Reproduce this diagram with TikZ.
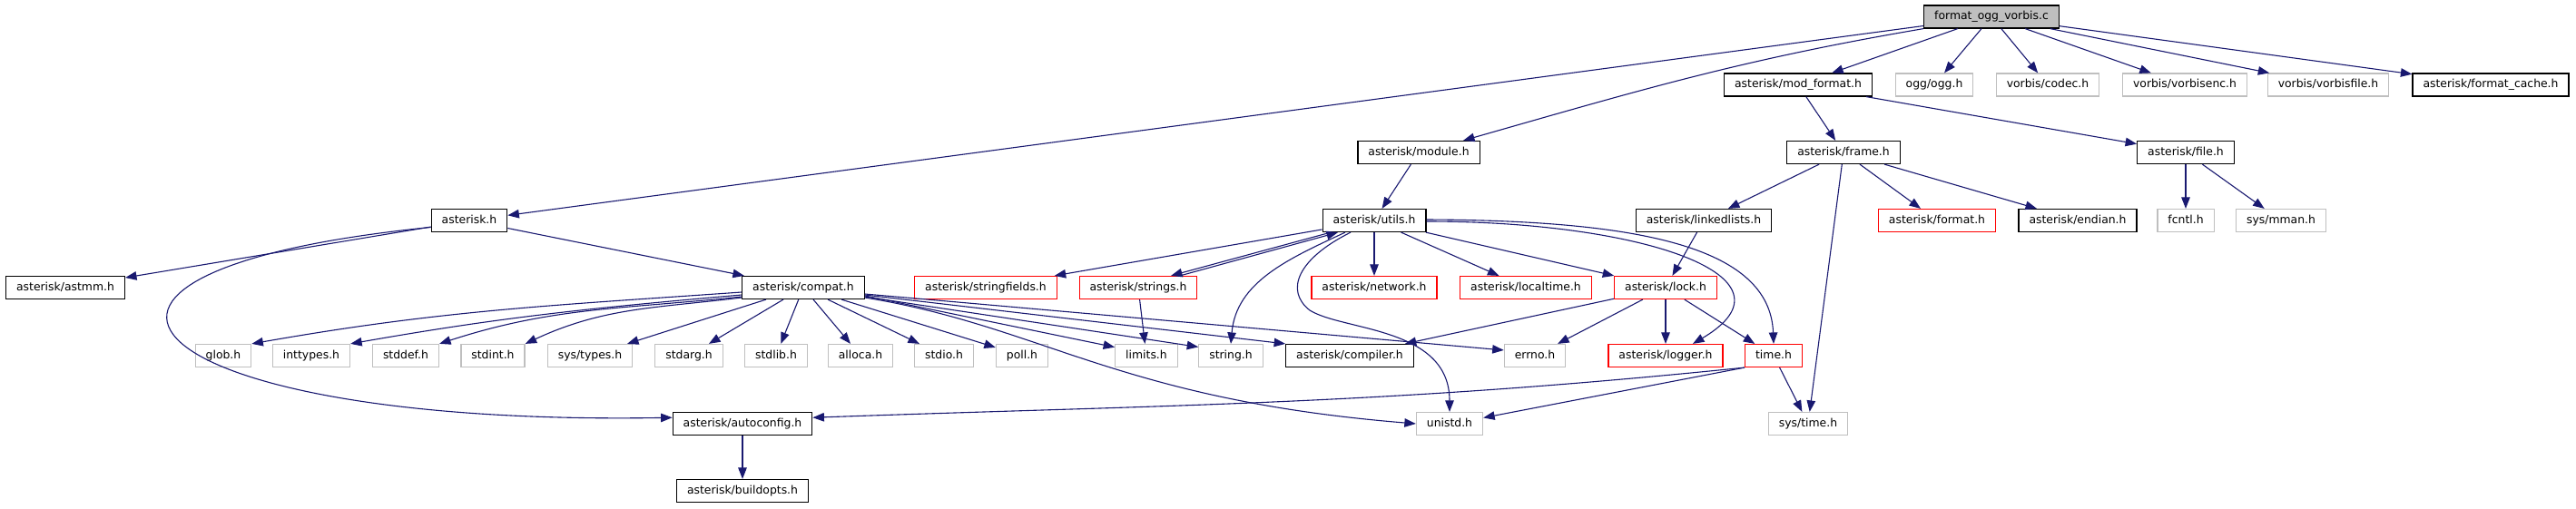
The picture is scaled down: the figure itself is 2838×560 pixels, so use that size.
\documentclass[tikz,border=0pt]{standalone}
\usepackage{fontspec}
\setmainfont{DejaVu Sans}
\usetikzlibrary{arrows.meta}
\definecolor{edgeblue}{RGB}{25,25,112}
\definecolor{sysgray}{RGB}{191,191,191}
\definecolor{truncred}{RGB}{255,0,0}

\begin{document}
\begin{tikzpicture}[x=1pt, y=1pt,
        box/.style={draw, line width=1.2pt, minimum height=25pt, inner xsep=11.5pt, inner ysep=0pt,
                    text height=9pt, text depth=2.5pt, font=\fontsize{12.4}{14}\selectfont},
        hdr/.style={box, draw=black},
        sys/.style={box, draw=sysgray},
        trunc/.style={box, draw=truncred},
        root/.style={box, draw=black, fill=sysgray},
        dep/.style={-{Triangle[length=12.5pt, width=9.5pt]}, edgeblue, line width=1.1pt},
      ]
      \useasboundingbox (0,0) rectangle (2838,-560);
      \node[root] (src) at (2194,-18.5) {format\_ogg\_vorbis.c};
      \node[hdr] (modfmt) at (1981,-93.5) {asterisk/mod\_format.h};
      \node[sys] (ogg) at (2131,-93.5) {ogg/ogg.h};
      \node[sys] (codec) at (2256,-93.5) {vorbis/codec.h};
      \node[sys] (venc) at (2407,-93.5) {vorbis/vorbisenc.h};
      \node[sys] (vfile) at (2565,-93.5) {vorbis/vorbisfile.h};
      \node[hdr] (fcache) at (2744,-93.5) {asterisk/format\_cache.h};
      \node[hdr] (module) at (1563,-168) {asterisk/module.h};
      \node[hdr] (frame) at (2031,-168) {asterisk/frame.h};
      \node[hdr] (astfile) at (2408,-168) {asterisk/file.h};
      \node[hdr] (ast) at (517,-243) {asterisk.h};
      \node[hdr] (utils) at (1514,-243) {asterisk/utils.h};
      \node[hdr] (llists) at (1877,-243) {asterisk/linkedlists.h};
      \node[trunc] (fmt) at (2134,-243) {asterisk/format.h};
      \node[hdr] (endian) at (2289,-243) {asterisk/endian.h};
      \node[sys] (fcntl) at (2408,-243) {fcntl.h};
      \node[sys] (mman) at (2513,-243) {sys/mman.h};
      \node[hdr] (astmm) at (72,-317) {asterisk/astmm.h};
      \node[hdr] (compat) at (885,-317) {asterisk/compat.h};
      \node[trunc] (sfields) at (1086,-317) {asterisk/stringfields.h};
      \node[trunc] (strs) at (1254,-317) {asterisk/strings.h};
      \node[trunc] (network) at (1514,-317) {asterisk/network.h};
      \node[trunc] (ltime) at (1681,-317) {asterisk/localtime.h};
      \node[trunc] (lock) at (1835,-317) {asterisk/lock.h};
      \node[sys] (glob) at (246,-392) {glob.h};
      \node[sys] (inttypes) at (343,-392) {inttypes.h};
      \node[sys] (stddef) at (447,-392) {stddef.h};
      \node[sys] (stdint) at (543,-392) {stdint.h};
      \node[sys] (systypes) at (650,-392) {sys/types.h};
      \node[sys] (stdarg) at (759,-392) {stdarg.h};
      \node[sys] (stdlib) at (855,-392) {stdlib.h};
      \node[sys] (alloca) at (948,-392) {alloca.h};
      \node[sys] (stdio) at (1040,-392) {stdio.h};
      \node[sys] (poll) at (1126,-392) {poll.h};
      \node[sys] (limits) at (1263,-392) {limits.h};
      \node[sys] (string) at (1356,-392) {string.h};
      \node[hdr] (compiler) at (1487,-392) {asterisk/compiler.h};
      \node[sys] (errno) at (1691,-392) {errno.h};
      \node[trunc] (logger) at (1835,-392) {asterisk/logger.h};
      \node[trunc] (time) at (1954,-392) {time.h};
      \node[hdr] (autoconf) at (818,-467) {asterisk/autoconfig.h};
      \node[sys] (unistd) at (1597,-467) {unistd.h};
      \node[sys] (systime) at (1992,-467) {sys/time.h};
      \node[hdr] (buildopts) at (818,-541) {asterisk/buildopts.h};
      \draw[dep] (src) -- (ast);
      \draw[dep] (src.south west) .. controls (1917,-66) and (1808,-99) .. ([xshift=49pt]module.north);
      \draw[dep] (src) -- (modfmt);
      \draw[dep] (src) -- (ogg);
      \draw[dep] (src) -- (codec);
      \draw[dep] (src) -- (venc);
      \draw[dep] (src) -- (vfile);
      \draw[dep] (src) -- (fcache);
      \draw[dep] (modfmt) -- (frame);
      \draw[dep] (modfmt) -- (astfile);
      \draw[dep] (module) -- (utils);
      \draw[dep] (frame) -- (llists);
      \draw[dep] (frame) -- (fmt);
      \draw[dep] (frame) -- (endian);
      \draw[dep] (frame) -- (systime);
      \draw[dep] (astfile) -- (fcntl);
      \draw[dep] (astfile) -- (mman);
      \draw[dep] (ast) -- (astmm);
      \draw[dep] (ast) -- (compat);
      \draw[dep] (ast.190) .. controls (-20,-300) and (150,-470) .. (autoconf.175);
      \draw[dep] ([yshift=-5pt]compat.west) to[out=184, in=10] (glob.north east);
      \draw[dep] ([yshift=-8pt]compat.west) to[out=185, in=10] (inttypes.north east);
      \draw[dep] ([yshift=-10pt]compat.west) to[out=186, in=18] (stddef.north east);
      \draw[dep] ([yshift=-11pt]compat.west) to[out=187, in=25] (stdint.north east);
      \draw[dep] (compat) -- (systypes);
      \draw[dep] (compat) -- (stdarg);
      \draw[dep] (compat) -- (stdlib);
      \draw[dep] (compat) -- (alloca);
      \draw[dep] (compat) -- (stdio);
      \draw[dep] (compat) -- (poll);
      \draw[dep] ([yshift=-9pt]compat.east) -- (limits.165);
      \draw[dep] ([yshift=-10pt]compat.east) -- (string.165);
      \draw[dep] ([yshift=-8pt]compat.east) -- (compiler.north west);
      \draw[dep] ([yshift=-7pt]compat.east) -- (errno.170);
      \draw[dep] ([yshift=-11pt]compat.east) .. controls (1150,-360) and (1230,-440) .. (unistd.west);
      \draw[dep] (utils) -- (sfields);
      \draw[dep] ([xshift=-48pt]utils.south) -- ([xshift=36pt]strs.north);
      \draw[dep] ([xshift=46pt]strs.north) -- ([xshift=-40pt]utils.south);
      \draw[dep] ([xshift=-32pt]utils.south) to[out=205, in=85] (string.north);
      \draw[dep] ([xshift=-26pt]utils.south) .. controls (1430,-285) and (1415,-320) .. (1443,-342)
                 .. controls (1480,-365) and (1597,-360) .. (unistd.north);
      \draw[dep] (utils) -- (network);
      \draw[dep] (utils) -- (ltime);
      \draw[dep] (utils) -- (lock);
      \draw[dep] ([yshift=-1pt]utils.east) .. controls (1810,-244) and (1990,-305) .. ([xshift=30pt]logger.north);
      \draw[dep] ([yshift=1pt]utils.east) .. controls (1800,-243) and (1950,-270) .. (time.north);
      \draw[dep] (strs) -- (limits);
      \draw[dep] (llists) -- (lock);
      \draw[dep] (lock) -- (compiler);
      \draw[dep] (lock) -- (errno);
      \draw[dep] (lock) -- (logger);
      \draw[dep] (lock) -- (time);
      \draw[dep] (time.south west) .. controls (1523,-446) and (1297,-446) .. (autoconf.5);
      \draw[dep] (time.south west) -- (unistd.10);
      \draw[dep] (time) -- (systime);
      \draw[dep] (autoconf) -- (buildopts);
    \end{tikzpicture}
\end{document}
